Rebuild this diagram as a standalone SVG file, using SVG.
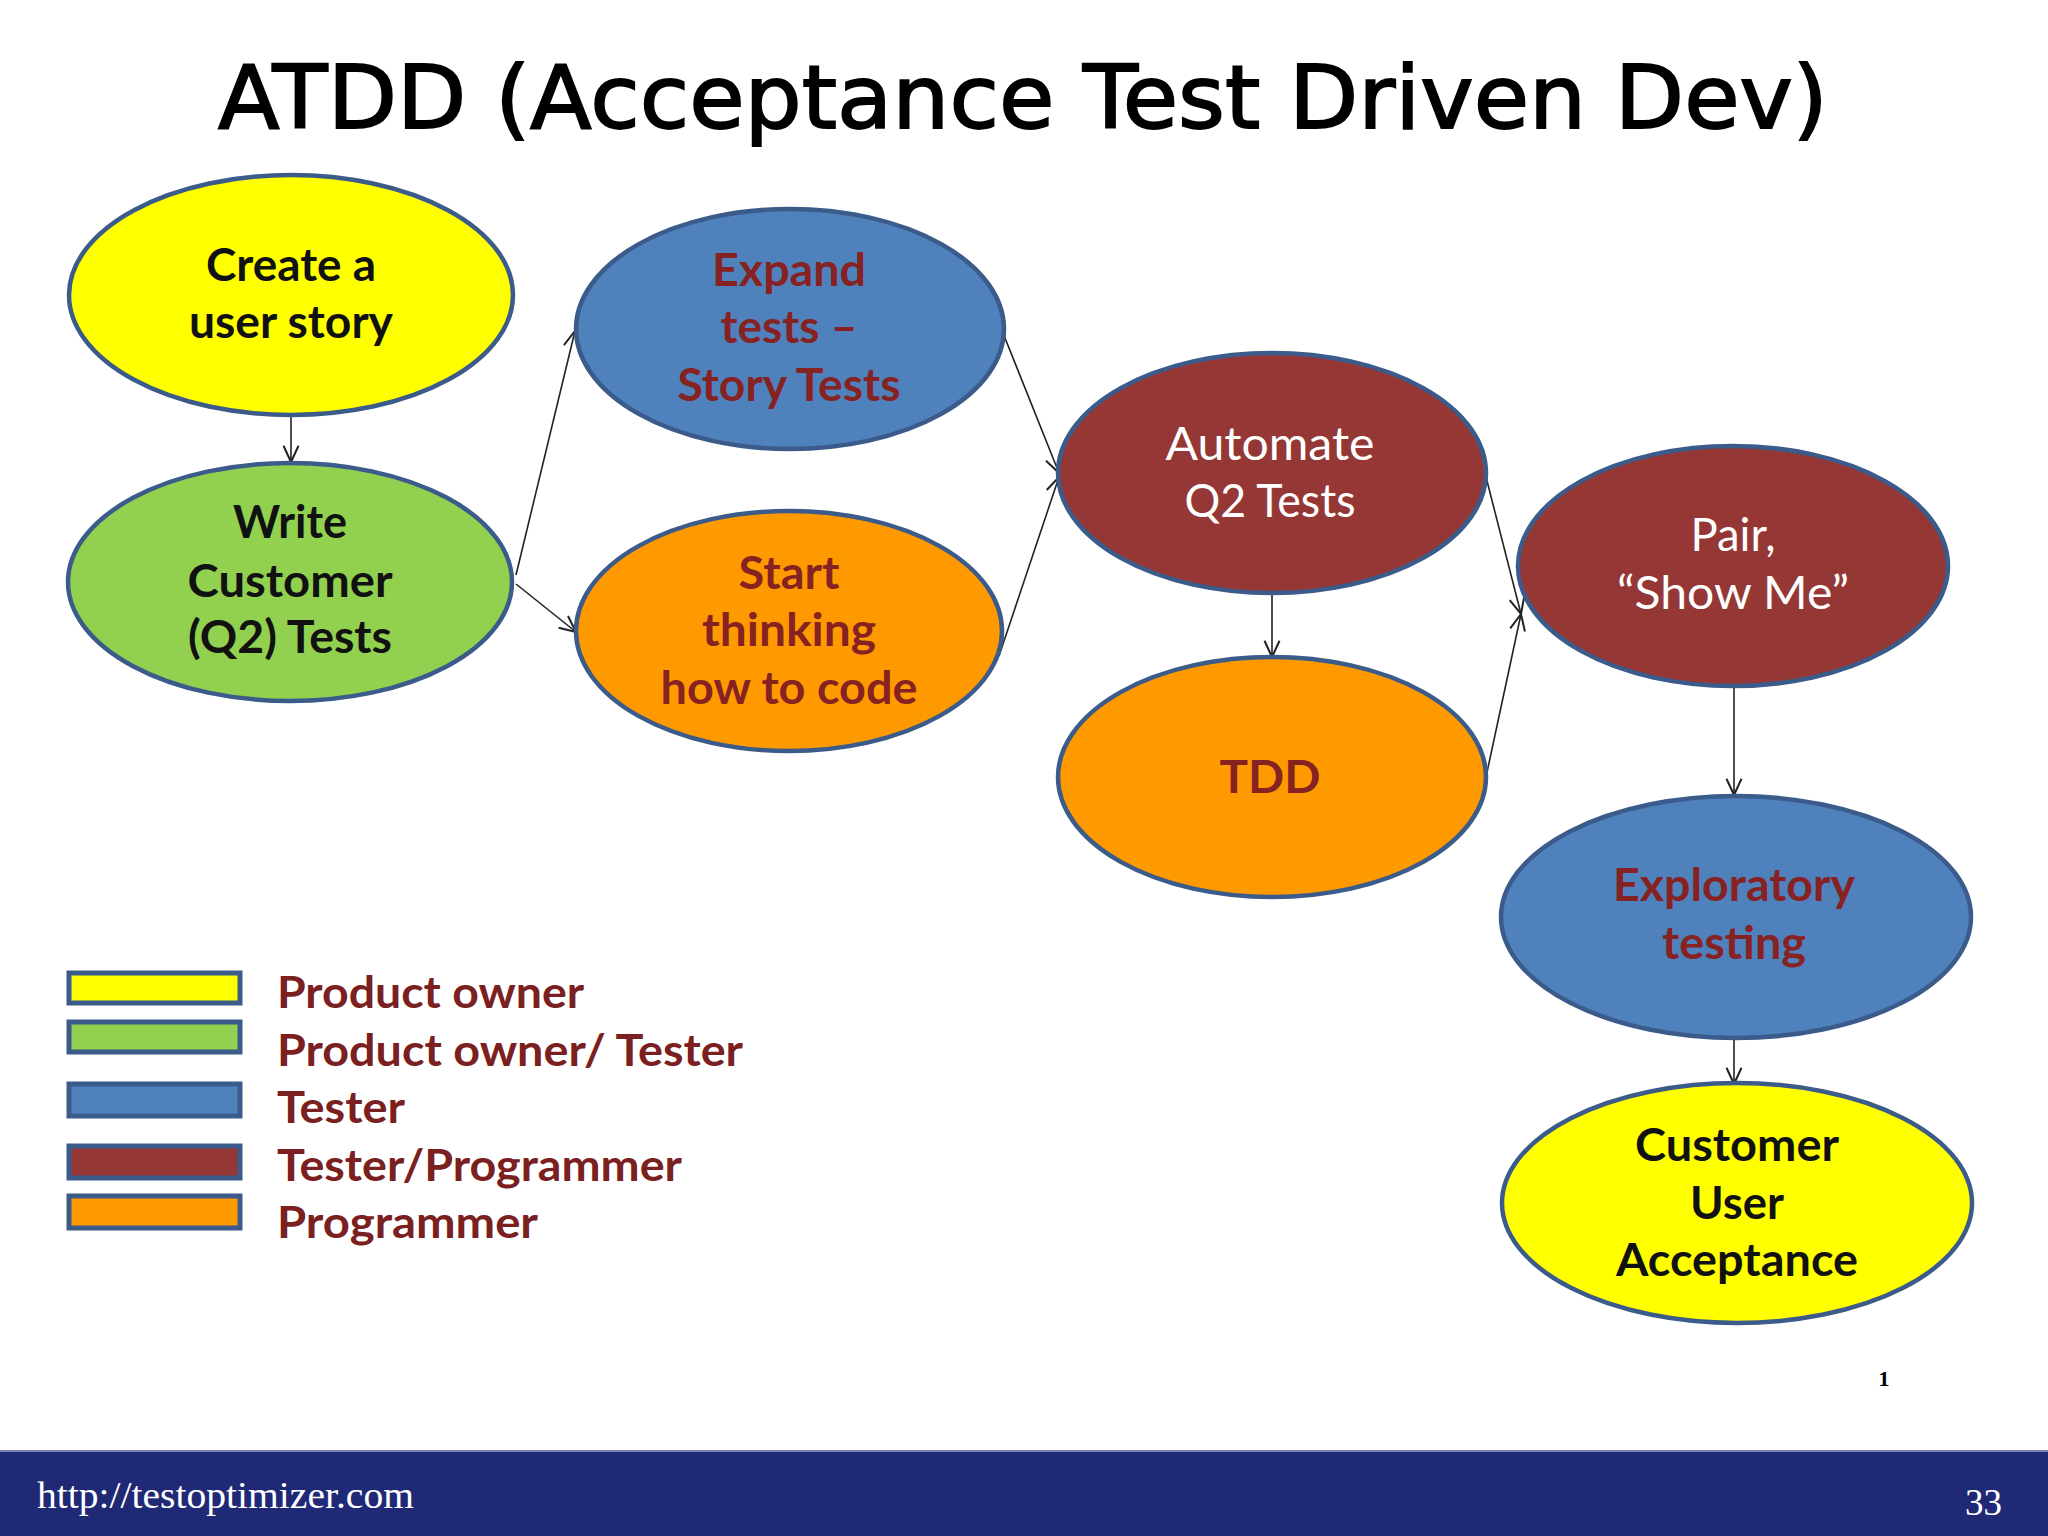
<svg xmlns="http://www.w3.org/2000/svg" width="2048" height="1536" viewBox="0 0 2048 1536">
<defs>
<style>
.node ellipse{stroke:#3B5B8A;stroke-width:4.5}
.nt{font-family:Lato,"Open Sans","Liberation Sans",sans-serif;font-size:46px;font-weight:bold;text-anchor:middle}
.dk{fill:#111111}
.rd{fill:#872222}
.wh{fill:#FFFFFF;font-weight:normal}
.conn line{stroke:#222222;stroke-width:1.6;fill:none;marker-end:url(#arr)}
.lg rect{stroke:#3B5B8A;stroke-width:5}
.lt{font-family:Lato,"Open Sans","Liberation Sans",sans-serif;font-size:44px;font-weight:bold;fill:#7A2020}
.ft{font-family:"Liberation Serif","DejaVu Serif",serif;font-size:37px;fill:#FFFFFF}
</style>
<marker id="arr" markerUnits="userSpaceOnUse" markerWidth="20" markerHeight="20" refX="14" refY="7" orient="auto" viewBox="0 0 16 14">
<polyline points="1,1 14,7 1,13" fill="none" stroke="#222222" stroke-width="1.6"/>
</marker>
</defs>
<rect x="0" y="0" width="2048" height="1536" fill="#FFFFFF"/>
<text x="1023" y="128" font-family="'DejaVu Sans',Verdana,sans-serif" font-size="88" text-anchor="middle" textLength="1610" lengthAdjust="spacingAndGlyphs" fill="#000000" stroke="#000000" stroke-width="1.8">ATDD (Acceptance Test Driven Dev)</text>

<g class="conn">
<line x1="291" y1="415" x2="291" y2="462"/>
<line x1="516" y1="575" x2="575" y2="331"/>
<line x1="516" y1="584" x2="576" y2="632"/>
<line x1="1003" y1="333" x2="1059" y2="473"/>
<line x1="999" y1="656" x2="1059" y2="477"/>
<line x1="1272" y1="594" x2="1272" y2="657"/>
<line x1="1486" y1="477" x2="1521" y2="614"/>
<line x1="1486" y1="777" x2="1521" y2="614"/>
<line x1="1734" y1="687" x2="1734" y2="795"/>
<line x1="1734" y1="1038" x2="1734" y2="1084"/>
</g>

<g id="n-create" class="node">
<ellipse cx="291" cy="295" rx="222" ry="120" fill="#FFFF00"/>
<text class="nt dk" x="291" y="281" textLength="170" lengthAdjust="spacingAndGlyphs">Create a</text>
<text class="nt dk" x="291" y="338" textLength="204" lengthAdjust="spacingAndGlyphs">user story</text>
</g>
<g id="n-write" class="node">
<ellipse cx="290" cy="582" rx="222" ry="119" fill="#92D050"/>
<text class="nt dk" x="290" y="538" textLength="114" lengthAdjust="spacingAndGlyphs">Write</text>
<text class="nt dk" x="290" y="597" textLength="205" lengthAdjust="spacingAndGlyphs">Customer</text>
<text class="nt dk" x="290" y="653" textLength="204" lengthAdjust="spacingAndGlyphs">(Q2) Tests</text>
</g>
<g id="n-expand" class="node">
<ellipse cx="790" cy="329" rx="214" ry="120" fill="#4F81BD"/>
<text class="nt rd" x="789" y="286" textLength="154" lengthAdjust="spacingAndGlyphs">Expand</text>
<text class="nt rd" x="789" y="343" textLength="137" lengthAdjust="spacingAndGlyphs">tests –</text>
<text class="nt rd" x="789" y="401" textLength="223" lengthAdjust="spacingAndGlyphs">Story Tests</text>
</g>
<g id="n-start" class="node">
<ellipse cx="789" cy="631" rx="213" ry="120" fill="#FF9900"/>
<text class="nt rd" x="789" y="589" textLength="101" lengthAdjust="spacingAndGlyphs">Start</text>
<text class="nt rd" x="789" y="646" textLength="174" lengthAdjust="spacingAndGlyphs">thinking</text>
<text class="nt rd" x="789" y="704" textLength="257" lengthAdjust="spacingAndGlyphs">how to code</text>
</g>
<g id="n-automate" class="node">
<ellipse cx="1272" cy="473" rx="214" ry="120" fill="#953735"/>
<text class="nt wh" x="1270" y="460" textLength="209" lengthAdjust="spacingAndGlyphs">Automate</text>
<text class="nt wh" x="1270" y="517" textLength="171" lengthAdjust="spacingAndGlyphs">Q2 Tests</text>
</g>
<g id="n-tdd" class="node">
<ellipse cx="1272" cy="777" rx="214" ry="120" fill="#FF9900"/>
<text class="nt rd" x="1270" y="793" textLength="101" lengthAdjust="spacingAndGlyphs">TDD</text>
</g>
<g id="n-pair" class="node">
<ellipse cx="1733" cy="566" rx="215" ry="120" fill="#953735"/>
<text class="nt wh" x="1733" y="551" textLength="85" lengthAdjust="spacingAndGlyphs">Pair,</text>
<text class="nt wh" x="1733" y="609" textLength="232" lengthAdjust="spacingAndGlyphs">“Show Me”</text>
</g>
<g id="n-exploratory" class="node">
<ellipse cx="1736" cy="917" rx="235" ry="121" fill="#4F81BD"/>
<text class="nt rd" x="1734" y="901" textLength="242" lengthAdjust="spacingAndGlyphs">Exploratory</text>
<text class="nt rd" x="1734" y="959" textLength="144" lengthAdjust="spacingAndGlyphs">testing</text>
</g>
<g id="n-customer" class="node">
<ellipse cx="1737" cy="1203" rx="235" ry="120" fill="#FFFF00"/>
<text class="nt dk" x="1737" y="1161" textLength="204" lengthAdjust="spacingAndGlyphs">Customer</text>
<text class="nt dk" x="1737" y="1219" textLength="94" lengthAdjust="spacingAndGlyphs">User</text>
<text class="nt dk" x="1737" y="1276" textLength="242" lengthAdjust="spacingAndGlyphs">Acceptance</text>
</g>

<g id="legend" class="lg">
<rect x="69" y="973" width="171" height="30" fill="#FFFF00"/>
<rect x="69" y="1022" width="171" height="30" fill="#92D050"/>
<rect x="69" y="1084" width="171" height="32" fill="#4F81BD"/>
<rect x="69" y="1146" width="171" height="32" fill="#953735"/>
<rect x="69" y="1196" width="171" height="32" fill="#FF9900"/>
<text class="lt" x="277" y="1008" textLength="307" lengthAdjust="spacingAndGlyphs">Product owner</text>
<text class="lt" x="277" y="1066" textLength="466" lengthAdjust="spacingAndGlyphs">Product owner/ Tester</text>
<text class="lt" x="277" y="1123" textLength="128" lengthAdjust="spacingAndGlyphs">Tester</text>
<text class="lt" x="277" y="1181" textLength="405" lengthAdjust="spacingAndGlyphs">Tester/Programmer</text>
<text class="lt" x="277" y="1238" textLength="261" lengthAdjust="spacingAndGlyphs">Programmer</text>
</g>

<text x="1884" y="1386" font-family="'Liberation Serif',Georgia,serif" font-size="22" font-weight="bold" text-anchor="middle" fill="#000000">1</text>

<g id="footer">
<rect x="0" y="1450" width="2048" height="86" fill="#1F2976"/>
<rect x="0" y="1450" width="2048" height="2" fill="#7A82B8"/>
<text class="ft" x="37" y="1508" textLength="377" lengthAdjust="spacingAndGlyphs">http://testoptimizer.com</text>
<text class="ft" x="2002" y="1515" text-anchor="end">33</text>
</g>
</svg>
